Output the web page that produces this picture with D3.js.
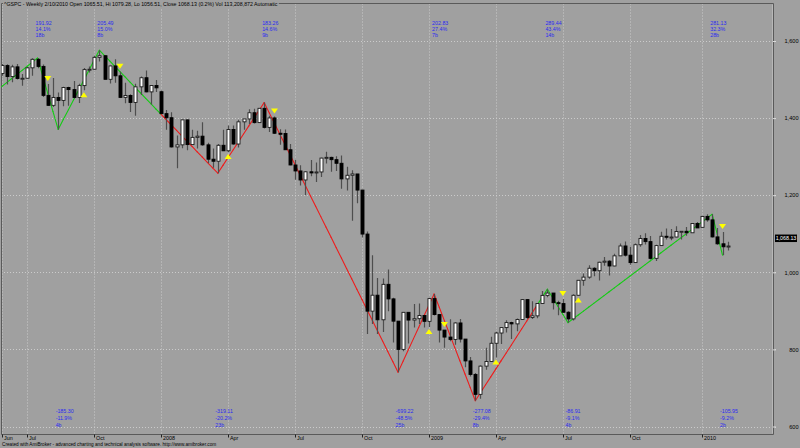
<!DOCTYPE html>
<html>
<head>
<meta charset="utf-8">
<script src="https://cdn.jsdelivr.net/npm/d3@7"></script>
<style>
  html, body { margin: 0; padding: 0; background: #a0a0a0; }
  svg { display: block; }
  text { font-family: "Liberation Sans", Arial, sans-serif; }
</style>
</head>
<body>
<svg id="chart" width="800" height="448"></svg>
<script>
// ---------------- DATA (weekly ^GSPC, week index 0 = week ending 2007-06-01) ----------------
const weekDates = [
"2007-06-01","2007-06-08","2007-06-15","2007-06-22","2007-06-29","2007-07-06","2007-07-13","2007-07-20","2007-07-27","2007-08-03",
"2007-08-10","2007-08-17","2007-08-24","2007-08-31","2007-09-07","2007-09-14","2007-09-21","2007-09-28","2007-10-05","2007-10-12",
"2007-10-19","2007-10-26","2007-11-02","2007-11-09","2007-11-16","2007-11-23","2007-11-30","2007-12-07","2007-12-14","2007-12-21",
"2007-12-28","2008-01-04","2008-01-11","2008-01-18","2008-01-25","2008-02-01","2008-02-08","2008-02-15","2008-02-22","2008-02-29",
"2008-03-07","2008-03-14","2008-03-20","2008-03-28","2008-04-04","2008-04-11","2008-04-18","2008-04-25","2008-05-02","2008-05-09",
"2008-05-16","2008-05-23","2008-05-30","2008-06-06","2008-06-13","2008-06-20","2008-06-27","2008-07-03","2008-07-11","2008-07-18",
"2008-07-25","2008-08-01","2008-08-08","2008-08-15","2008-08-22","2008-08-29","2008-09-05","2008-09-12","2008-09-19","2008-09-26",
"2008-10-03","2008-10-10","2008-10-17","2008-10-24","2008-10-31","2008-11-07","2008-11-14","2008-11-21","2008-11-28","2008-12-05",
"2008-12-12","2008-12-19","2008-12-26","2009-01-02","2009-01-09","2009-01-16","2009-01-23","2009-01-30","2009-02-06","2009-02-13",
"2009-02-20","2009-02-27","2009-03-06","2009-03-13","2009-03-20","2009-03-27","2009-04-03","2009-04-09","2009-04-17","2009-04-24",
"2009-05-01","2009-05-08","2009-05-15","2009-05-22","2009-05-29","2009-06-05","2009-06-12","2009-06-19","2009-06-26","2009-07-02",
"2009-07-10","2009-07-17","2009-07-24","2009-07-31","2009-08-07","2009-08-14","2009-08-21","2009-08-28","2009-09-04","2009-09-11",
"2009-09-18","2009-09-25","2009-10-02","2009-10-09","2009-10-16","2009-10-23","2009-10-30","2009-11-06","2009-11-13","2009-11-20",
"2009-11-27","2009-12-04","2009-12-11","2009-12-18","2009-12-24","2009-12-31","2010-01-08","2010-01-15","2010-01-22","2010-01-29",
"2010-02-05","2010-02-10"];

const opens = [
1515.6,1536.3,1507.7,1532.9,1502.6,1503.4,1530.4,1552.5,1534.1,1459.0,
1433.1,1453.6,1445.9,1479.4,1474.0,1453.6,1484.3,1525.8,1526.8,1557.6,
1561.8,1500.6,1535.3,1509.7,1453.7,1458.7,1440.7,1481.1,1504.7,1468.0,
1484.5,1468.4,1411.6,1401.0,1325.2,1330.6,1395.4,1331.3,1350.0,1353.1,
1330.6,1293.4,1288.1,1329.5,1315.2,1370.4,1332.8,1390.3,1397.8,1413.9,
1388.3,1425.4,1375.9,1400.4,1360.7,1360.0,1317.9,1278.4,1262.9,1239.5,
1260.7,1257.8,1260.3,1296.3,1298.2,1292.2,1282.8,1242.3,1251.7,1255.1,
1213.3,1099.2,899.2,940.6,876.8,968.8,931.0,873.3,800.0,896.2,
876.1,879.7,887.9,872.8,931.8,890.4,850.1,832.0,825.9,868.6,
826.8,770.1,735.1,683.4,756.6,768.5,815.9,842.5,856.6,869.6,
866.2,877.5,929.2,882.9,887.0,919.1,940.1,946.2,921.2,918.9,
896.4,879.1,940.4,979.3,987.5,1010.5,1004.1,1026.1,1028.9,1016.4,
1042.7,1068.3,1044.4,1025.2,1071.5,1087.7,1079.6,1036.2,1069.3,1093.5,
1091.4,1091.5,1106.0,1106.4,1102.5,1126.5,1116.6,1145.0,1136.0,1091.8,
1073.9,1065.51];

const highs = [
1540.6,1540.0,1538.7,1540.5,1514.3,1532.4,1555.1,1555.9,1539.0,1488.3,
1503.9,1466.3,1481.0,1481.5,1496.4,1489.0,1530.0,1533.7,1561.9,1576.09,
1563.0,1536.0,1552.8,1520.0,1492.0,1462.0,1488.9,1508.0,1523.6,1485.0,
1498.9,1471.8,1421.0,1415.0,1355.0,1396.0,1396.0,1370.0,1367.0,1389.0,
1336.0,1321.0,1333.0,1370.0,1380.9,1381.0,1395.9,1398.0,1422.7,1424.0,
1426.0,1440.24,1406.0,1404.0,1371.0,1370.6,1333.0,1292.0,1278.0,1262.0,
1291.0,1285.0,1297.0,1313.0,1300.0,1301.0,1303.0,1274.0,1265.0,1255.1,
1214.0,1106.0,1044.0,985.0,984.0,1007.5,934.0,873.3,896.2,896.2,
918.0,918.9,887.9,934.0,943.85,891.0,850.1,877.9,870.7,878.6,
827.0,780.0,739.0,758.0,804.0,833.0,845.6,856.9,875.6,871.8,
880.0,930.0,930.0,924.6,920.0,951.7,956.23,946.3,926.0,931.0,
898.7,943.0,979.8,996.7,1018.0,1013.0,1027.6,1039.5,1031.0,1048.0,
1074.8,1080.2,1066.0,1075.0,1096.6,1101.4,1094.0,1071.5,1105.4,1113.7,
1112.4,1119.7,1107.0,1117.7,1126.5,1130.4,1145.4,1150.4,1150.45,1115.0,
1104.7,1079.28];

const lows = [
1510.0,1487.4,1492.7,1500.0,1484.2,1503.0,1510.0,1529.0,1455.0,1432.0,
1429.0,1370.6,1430.5,1432.0,1451.0,1439.3,1472.0,1518.0,1526.0,1546.7,
1500.6,1490.0,1492.0,1453.0,1438.5,1416.0,1406.0,1460.0,1467.0,1435.0,
1468.0,1411.0,1370.0,1324.0,1270.1,1322.0,1316.8,1331.0,1321.0,1328.0,
1283.0,1271.0,1256.98,1315.0,1312.0,1331.0,1324.0,1370.0,1385.0,1386.0,
1387.0,1373.0,1364.0,1359.0,1331.0,1317.0,1278.0,1240.0,1225.0,1200.4,
1249.0,1234.0,1247.0,1282.0,1261.0,1263.0,1217.0,1212.0,1133.5,1179.0,
1090.0,839.8,865.8,840.0,845.0,899.0,818.0,741.02,795.0,815.0,
857.0,866.0,857.0,858.0,888.0,818.0,804.0,821.0,812.0,818.0,
754.0,729.6,666.79,672.0,747.0,768.0,779.0,814.0,844.0,826.8,
847.0,876.0,878.9,879.0,881.0,919.0,935.0,903.8,888.8,896.0,
869.32,875.0,940.0,965.0,983.0,990.0,978.5,1017.0,992.0,1016.0,
1042.0,1041.0,1019.9,1025.0,1066.0,1072.0,1033.0,1029.0,1069.0,1085.0,
1083.0,1091.0,1085.0,1095.0,1102.0,1114.8,1116.6,1131.0,1090.2,1071.6,
1044.5,1056.51];

const closes = [
1536.3,1507.7,1532.9,1502.6,1503.4,1530.4,1552.5,1534.1,1459.0,1433.1,
1453.6,1445.9,1479.4,1474.0,1453.6,1484.3,1525.8,1526.8,1557.6,1561.8,
1500.6,1535.3,1509.7,1453.7,1458.7,1440.7,1481.1,1504.7,1468.0,1484.5,
1478.5,1411.6,1401.0,1325.2,1330.6,1395.4,1331.3,1350.0,1353.1,1330.6,
1293.4,1288.1,1329.5,1315.2,1370.4,1332.8,1390.3,1397.8,1413.9,1388.3,
1425.4,1375.9,1400.4,1360.7,1360.0,1317.9,1278.4,1262.9,1239.5,1260.7,
1257.8,1260.3,1296.3,1298.2,1292.2,1282.8,1242.3,1251.7,1255.1,1213.3,
1099.2,899.2,940.6,876.8,968.8,931.0,873.3,800.0,896.2,876.1,
879.7,887.9,872.8,931.8,890.4,850.1,832.0,825.9,868.6,826.8,
770.1,735.1,683.4,756.6,768.5,815.9,842.5,856.6,869.6,866.2,
877.5,929.2,882.9,887.0,919.1,940.1,946.2,921.2,918.9,896.4,
879.1,940.4,979.3,987.5,1010.5,1004.1,1026.1,1028.9,1016.4,1042.7,
1068.3,1044.4,1025.2,1071.5,1087.7,1079.6,1036.2,1069.3,1093.5,1091.4,
1091.5,1106.0,1106.4,1102.5,1126.5,1115.1,1145.0,1136.0,1091.8,1073.9,
1066.19,1068.13];

// Zigzag pivots (week index, price) - first pivot lies left of the visible range
const pivotIdx    = [-11, 7, 11, 19, 42, 51, 77, 84, 92, 106, 110, 138, 140];
const pivotPrice  = [1363.98, 1555.90, 1370.60, 1576.09, 1256.98, 1440.24, 741.02, 943.85, 666.79, 956.23, 869.32, 1150.45, 1044.50];
// zigzag colour changes (segment starting at this week index)
const trendChangeIdx = [-11, 31, 104];
const trendColors    = ["#14cc14", "#ee1c1c", "#14cc14"];

// Buy / sell arrows
const buyIdx  = [16, 44, 83, 96, 112];
const sellIdx = [9, 23, 53, 86, 109, 140];

// Swing annotations
const peakIdx    = [7, 19, 51, 84, 106, 138];
const peakPts    = ["191.92", "205.49", "183.26", "202.83", "289.44", "281.13"];
const peakPct    = ["14.1%", "15.0%", "14.6%", "27.4%", "43.4%", "32.3%"];
const peakBars   = ["18b", "8b", "9b", "7b", "14b", "28b"];
const troughIdx  = [11, 42, 77, 92, 110, 140];
const troughPts  = ["-185.30", "-319.11", "-699.22", "-277.08", "-86.91", "-105.95"];
const troughPct  = ["-11.9%", "-20.2%", "-48.5%", "-29.4%", "-9.1%", "-9.2%"];
const troughBars = ["4b", "23b", "25b", "8b", "4b", "2b"];

// Axis ticks
const xTickIdx    = [0, 5, 18, 31, 44, 57, 70, 83, 96, 109, 122, 136];
const xTickLabels = ["Jun", "Jul", "Oct", "2008", "Apr", "Jul", "Oct", "2009", "Apr", "Jul", "Oct", "2010"];
const yTicks      = [600, 800, 1000, 1200, 1400, 1600];

const tickerName = "^GSPC";
const titleDate  = "2/10/2010";
const lastVolume = "113,208,872";
const creditText = "Created with AmiBroker - advanced charting and technical analysis software. http://www.amibroker.com";

// ---------------- CHART ----------------
const svg = d3.select("#chart");
const plot = {left: 1, top: 3.5, right: 773.5, bottom: 434.5};

const x = d3.scaleLinear().domain([0, 141]).range([1.5, 1.5 + 141 * 5.15]);
const y = d3.scaleLinear().domain([600, 1600]).range([426.5, 41]);

svg.append("rect").attr("width", 800).attr("height", 448).attr("fill", "#a0a0a0");

svg.append("defs").append("clipPath").attr("id", "plotclip")
  .append("rect").attr("x", plot.left + 0.5).attr("y", plot.top)
  .attr("width", plot.right - plot.left - 1).attr("height", plot.bottom - plot.top);

// Grid
const grid = svg.append("g");
grid.selectAll("line.h").data(yTicks).join("line")
  .attr("x1", plot.left).attr("x2", 777)
  .attr("y1", d => Math.round(y(d)) + 0.5).attr("y2", d => Math.round(y(d)) + 0.5)
  .attr("stroke", "#cbcbcb").attr("stroke-width", 1).attr("stroke-dasharray", "1,2");
grid.selectAll("line.v").data(xTickIdx).join("line")
  .attr("x1", d => Math.round(x(d)) + 0.5).attr("x2", d => Math.round(x(d)) + 0.5)
  .attr("y1", plot.top).attr("y2", plot.bottom)
  .attr("stroke", "#cbcbcb").attr("stroke-width", 1).attr("stroke-dasharray", "1,2");

// Frame
svg.append("path")
  .attr("d", `M${plot.left + 0.5},${plot.bottom} V${plot.top} H${plot.right} V${plot.bottom} H${plot.left + 0.5}`)
  .attr("fill", "none").attr("stroke", "#5a5a5a").attr("stroke-width", 1);
svg.append("line").attr("x1", plot.right - 1).attr("x2", plot.right - 1)
  .attr("y1", plot.top + 1).attr("y2", plot.bottom - 1).attr("stroke", "#b8b8b8").attr("stroke-width", 1);

// Zigzag line
const zig = svg.append("g").attr("clip-path", "url(#plotclip)");
function zigVal(i) {
  for (let k = 0; k < pivotIdx.length - 1; k++) {
    if (i >= pivotIdx[k] && i <= pivotIdx[k + 1]) {
      const t = (i - pivotIdx[k]) / (pivotIdx[k + 1] - pivotIdx[k]);
      return pivotPrice[k] + t * (pivotPrice[k + 1] - pivotPrice[k]);
    }
  }
  return null;
}
function trendColor(i) {
  let c = trendColors[0];
  trendChangeIdx.forEach((s, k) => { if (i >= s) c = trendColors[k]; });
  return c;
}
const segs = d3.range(pivotIdx[0], pivotIdx[pivotIdx.length - 1]).map(i => ({i, c: trendColor(i)}));
zig.selectAll("line").data(segs).join("line")
  .attr("x1", d => x(d.i)).attr("y1", d => y(zigVal(d.i)))
  .attr("x2", d => x(d.i + 1)).attr("y2", d => y(zigVal(d.i + 1)))
  .attr("stroke", d => d.c).attr("stroke-width", 1.1).attr("stroke-linecap", "round");

// Candles
const bars = d3.range(closes.length).map(i => ({i, o: opens[i], h: highs[i], l: lows[i], c: closes[i]}));
const cg = svg.append("g").attr("clip-path", "url(#plotclip)");
cg.selectAll("line.wick").data(bars).join("line")
  .attr("x1", d => Math.round(x(d.i)) + 0.5).attr("x2", d => Math.round(x(d.i)) + 0.5)
  .attr("y1", d => y(d.h)).attr("y2", d => y(d.l))
  .attr("stroke", "#4e4e4e").attr("stroke-width", 1.2);
cg.selectAll("rect.body").data(bars).join("rect")
  .attr("x", d => Math.round(x(d.i)) - 1)
  .attr("width", 3)
  .attr("y", d => Math.min(y(d.o), y(d.c)))
  .attr("height", d => Math.max(1, Math.abs(y(d.o) - y(d.c))))
  .attr("fill", d => d.c >= d.o ? "#ffffff" : "#000000")
  .attr("stroke", d => d.c >= d.o ? "#1a1a1a" : "#000000")
  .attr("stroke-width", 0.9);

// Buy / sell arrows
const triW = 3.5, triH = 5;
svg.append("g").selectAll("path").data(buyIdx).join("path")
  .attr("d", i => { const cx = x(i), cy = y(lows[i]) + 4.5;
    return `M${cx},${cy - triH / 2} L${cx + triW},${cy + triH / 2} L${cx - triW},${cy + triH / 2} Z`; })
  .attr("fill", "#ffff00");
svg.append("g").selectAll("path").data(sellIdx).join("path")
  .attr("d", i => { const cx = x(i), cy = y(highs[i]) - 5.5;
    return `M${cx},${cy + triH / 2} L${cx + triW},${cy - triH / 2} L${cx - triW},${cy - triH / 2} Z`; })
  .attr("fill", "#ffff00");

// Swing annotations
const annColor = "#2a2af2";
const peakG = svg.append("g").attr("font-size", 5.3).attr("fill", annColor);
peakIdx.forEach((idx, k) => {
  [peakPts[k], peakPct[k], peakBars[k]].forEach((t, r) => {
    peakG.append("text").attr("x", x(idx) - 2).attr("y", 25 + r * 6.2).text(t);
  });
});
const trG = svg.append("g").attr("font-size", 5.3).attr("fill", annColor);
troughIdx.forEach((idx, k) => {
  [troughPts[k], troughPct[k], troughBars[k]].forEach((t, r) => {
    trG.append("text").attr("x", x(idx) - 2.5).attr("y", 413 + r * 6.8).text(t);
  });
});

// Y axis (right)
const yAxis = svg.append("g").attr("transform", "translate(775,0)")
  .call(d3.axisRight(y).tickValues(yTicks).tickSize(2).tickFormat(d3.format(",")));
yAxis.select(".domain").remove();
yAxis.selectAll(".tick line").attr("stroke", "#dcdcdc").attr("x1", -2).attr("x2", 1);
yAxis.selectAll(".tick text").attr("x", 23.5).attr("text-anchor", "end")
  .attr("font-size", 5.6).attr("fill", "#000").attr("font-family", "Liberation Sans, Arial, sans-serif");

// X axis (bottom)
const xAxis = svg.append("g").attr("transform", `translate(0,${plot.bottom})`)
  .call(d3.axisBottom(x).tickValues(xTickIdx).tickSize(3).tickFormat((d, i) => xTickLabels[i]));
xAxis.select(".domain").remove();
xAxis.selectAll(".tick").attr("transform", d => `translate(${Math.round(x(d)) + 0.5},0)`);
xAxis.selectAll(".tick line").attr("stroke", "#222");
xAxis.selectAll(".tick text").attr("x", 1.5).attr("y", 1.2).attr("dy", "0.71em").attr("text-anchor", "start")
  .attr("font-size", 5.4).attr("fill", "#000").attr("font-family", "Liberation Sans, Arial, sans-serif");

// Last price label
const last = closes.length - 1;
const lp = y(closes[last]);
svg.append("rect").attr("x", 775).attr("y", lp - 11.5).attr("width", 22).attr("height", 7.5).attr("fill", "#000");
svg.append("text").attr("x", 786).attr("y", lp - 5.8).attr("text-anchor", "middle")
  .attr("font-size", 5.3).attr("fill", "#fff").text(d3.format(",.2f")(closes[last]));

// Title
const prevClose = closes[last - 1];
const chg = (closes[last] / prevClose - 1) * 100;
const titleText = `${tickerName} - Weekly ${titleDate} Open ${opens[last].toFixed(2)}, Hi ${highs[last].toFixed(2)}, Lo ${lows[last].toFixed(2)}, Close ${closes[last].toFixed(2)} (${chg.toFixed(1)}%) Vol ${lastVolume} Automatic`;
const tbg = svg.append("rect").attr("fill", "#a0a0a0");
const title = svg.append("text").attr("x", 4).attr("y", 6.3).attr("font-size", 5.25).attr("fill", "#000").text(titleText);
const bb = title.node().getBBox();
tbg.attr("x", 3).attr("y", 0).attr("width", bb.width + 2).attr("height", 8);

// Credit
svg.append("text").attr("x", 2).attr("y", 446.3).attr("font-size", 4.7).attr("fill", "#000").text(creditText);
</script>
</body>
</html>
